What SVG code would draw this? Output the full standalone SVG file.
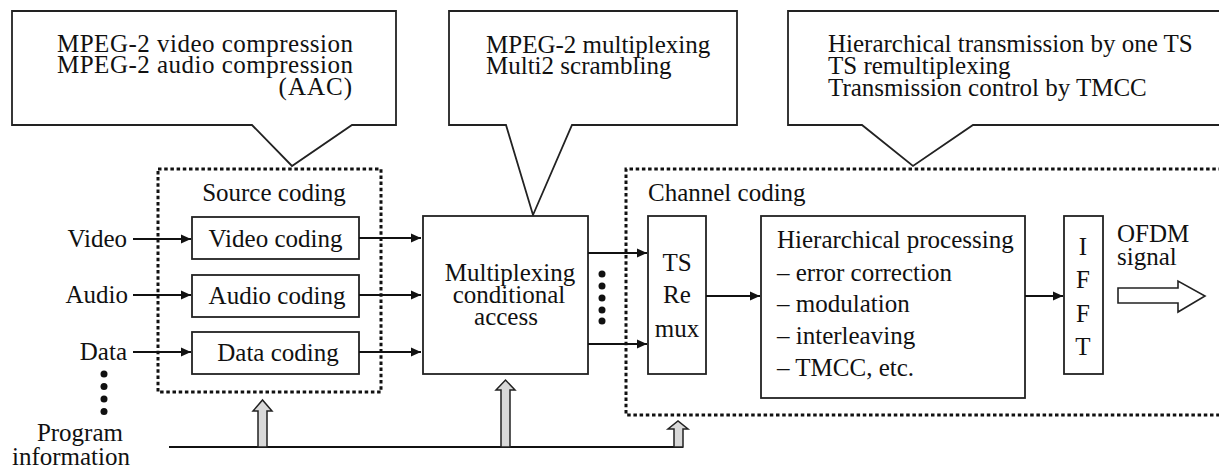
<svg xmlns="http://www.w3.org/2000/svg" width="1219" height="468" viewBox="0 0 1219 468">
<defs>
<style>
text{font-family:'Liberation Serif','Times New Roman','DejaVu Serif',serif;font-size:25px;fill:#111}
.box{fill:#fff;stroke:#222;stroke-width:1.8}
.dot{fill:none;stroke:#111;stroke-width:3;stroke-dasharray:3.5 2.7}
.ln{fill:none;stroke:#111;stroke-width:1.8}
.up{fill:#d9d9d9;stroke:#222;stroke-width:1.5}
.e{text-anchor:end}
.m{text-anchor:middle}
</style>
<marker id="ah" markerUnits="userSpaceOnUse" markerWidth="12" markerHeight="10" refX="10" refY="5" orient="auto">
<path d="M0,0.5 L10,5 L0,9.5 Z" fill="#111"/>
</marker>
</defs>
<rect width="1219" height="468" fill="#fff"/>

<g id="callout-source">
<path class="box" d="M12,11 H396 V125 H352 L292,166 L252,125 H12 Z"/>
<text x="57" y="52" textLength="296" lengthAdjust="spacing">MPEG-2 video compression</text>
<text x="57" y="73" textLength="296" lengthAdjust="spacing">MPEG-2 audio compression</text>
<text x="353" y="95" class="e" letter-spacing="1">(AAC)</text>
</g>
<g id="callout-mux">
<path class="box" d="M449,11 H737 V125 H572 L533,215 L506,125 H449 Z"/>
<text x="486" y="53">MPEG-2 multiplexing</text>
<text x="486" y="74">Multi2 scrambling</text>
</g>
<g id="callout-channel">
<path class="box" d="M788,11 H1230 V125 H973 L913,166 L862,125 H788 Z"/>
<text x="828" y="52">Hierarchical transmission by one TS</text>
<text x="828" y="74">TS remultiplexing</text>
<text x="828" y="96">Transmission control by TMCC</text>
</g>

<g id="source-coding">
<rect class="dot" x="158" y="169" width="223" height="223"/>
<text x="274" y="201" class="m">Source coding</text>
</g>
<g id="channel-coding">
<path class="dot" d="M1222,169 H626 V415 H1222"/>
<text x="648" y="201">Channel coding</text>
</g>

<g id="inputs">
<text x="127" y="247" class="e">Video</text>
<text x="128" y="303" class="e">Audio</text>
<text x="127" y="360" class="e">Data</text>
<circle cx="104" cy="374" r="3.5" fill="#111"/>
<circle cx="104" cy="386.5" r="3.5" fill="#111"/>
<circle cx="104" cy="399" r="3.5" fill="#111"/>
<circle cx="104" cy="411.5" r="3.5" fill="#111"/>
<text x="123" y="441" class="e">Program</text>
<text x="130" y="465" class="e">information</text>
</g>

<g id="video-coding">
<rect class="box" x="192" y="217" width="167" height="42"/>
<text x="275.5" y="247" class="m">Video coding</text>
</g>
<g id="audio-coding">
<rect class="box" x="192" y="275" width="167" height="42"/>
<text x="277" y="304" class="m">Audio coding</text>
</g>
<g id="data-coding">
<rect class="box" x="192" y="332" width="167" height="42"/>
<text x="278" y="361" class="m">Data coding</text>
</g>

<g id="mux">
<rect class="box" x="423" y="216" width="165" height="158"/>
<text x="510" y="281" class="m">Multiplexing</text>
<text x="509" y="303" class="m">conditional</text>
<text x="506" y="325" class="m">access</text>
</g>
<g id="mux-dots">
<circle cx="602" cy="274" r="3.5" fill="#111"/>
<circle cx="602" cy="286" r="3.5" fill="#111"/>
<circle cx="602" cy="298" r="3.5" fill="#111"/>
<circle cx="602" cy="310" r="3.5" fill="#111"/>
<circle cx="602" cy="321" r="3.5" fill="#111"/>
</g>

<g id="ts-remux">
<rect class="box" x="648" y="216" width="58" height="158"/>
<text x="677" y="271" class="m">TS</text>
<text x="677" y="303" class="m">Re</text>
<text x="677" y="337" class="m">mux</text>
</g>

<g id="hierarchical">
<rect class="box" x="761" y="216" width="264" height="182"/>
<text x="777" y="248">Hierarchical processing</text>
<text x="777" y="281">– error correction</text>
<text x="777" y="312">– modulation</text>
<text x="777" y="344">– interleaving</text>
<text x="777" y="376">– TMCC, etc.</text>
</g>

<g id="ifft">
<rect class="box" x="1064" y="216" width="39" height="158"/>
<text x="1083" y="255" class="m">I</text>
<text x="1083" y="288" class="m">F</text>
<text x="1083" y="322" class="m">F</text>
<text x="1083" y="355" class="m">T</text>
</g>

<g id="ofdm">
<text x="1117" y="242">OFDM</text>
<text x="1117" y="265">signal</text>
<path d="M1118,288 H1178 V281 L1205,296 L1178,312 V303 H1118 Z" fill="#fff" stroke="#222" stroke-width="1.6"/>
</g>

<g id="connectors">
<line class="ln" x1="133" y1="239" x2="191" y2="239" marker-end="url(#ah)"/>
<line class="ln" x1="133" y1="295" x2="191" y2="295" marker-end="url(#ah)"/>
<line class="ln" x1="133" y1="352" x2="191" y2="352" marker-end="url(#ah)"/>
<line class="ln" x1="359" y1="238" x2="421" y2="238" marker-end="url(#ah)"/>
<line class="ln" x1="359" y1="295" x2="421" y2="295" marker-end="url(#ah)"/>
<line class="ln" x1="359" y1="352" x2="421" y2="352" marker-end="url(#ah)"/>
<line class="ln" x1="588" y1="253" x2="647" y2="253" marker-end="url(#ah)"/>
<line class="ln" x1="588" y1="344" x2="647" y2="344" marker-end="url(#ah)"/>
<line class="ln" x1="706" y1="296" x2="760" y2="296" marker-end="url(#ah)"/>
<line class="ln" x1="1025" y1="296" x2="1063" y2="296" marker-end="url(#ah)"/>
<line class="ln" x1="169" y1="447" x2="683" y2="447"/>
<path class="up" d="M258,447 V411 H253 L262.5,400 L272,411 H267 V447 Z"/>
<path class="up" d="M501,447 V390 H496 L505.5,380 L515,390 H510 V447 Z"/>
<path class="up" d="M674,447 V429 H668 L678,421 L688,429 H683 V447 Z"/>
</g>
</svg>
